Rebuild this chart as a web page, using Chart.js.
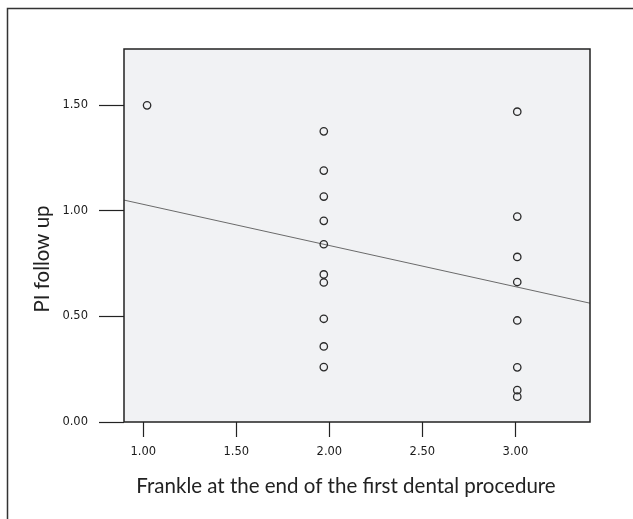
<!DOCTYPE html>
<html>
<head>
<meta charset="utf-8">
<script src="https://cdn.jsdelivr.net/npm/chart.js@4/dist/chart.umd.min.js"></script>
<style>
  html, body { margin: 0; padding: 0; background: #ffffff; }
  #wrap { width: 633px; height: 519px; position: relative; }
</style>
</head>
<body>
<div id="wrap"><canvas id="c" width="633" height="519"></canvas></div>
<script>
// ---- data ----
const frankleScores = [1.02,
  1.97, 1.97, 1.97, 1.97, 1.97, 1.97, 1.97, 1.97, 1.97, 1.97,
  3.01, 3.01, 3.01, 3.01, 3.01, 3.01, 3.01, 3.01];
const piFollowUp = [1.50,
  1.377, 1.191, 1.068, 0.953, 0.842, 0.699, 0.661, 0.489, 0.358, 0.260,
  1.470, 0.973, 0.782, 0.663, 0.481, 0.259, 0.151, 0.120];
const fitIntercept = 1.226;
const fitSlope = -0.195;
const xTickValues = [1.0, 1.5, 2.0, 2.5, 3.0];
const yTickValues = [0.0, 0.5, 1.0, 1.5];
const xRange = [0.896, 3.401];
const yRange = [0, 1.767];
const xTitle = 'Frankle at the end of the first dental procedure';
const yTitle = 'PI follow up';

const points = frankleScores.map((x, i) => ({ x: x, y: piFollowUp[i] }));
const fitLine = xRange.map(x => ({ x: x, y: fitIntercept + fitSlope * x }));

const framePlugin = {
  id: 'frame',
  beforeDraw(chart) {
    const ctx = chart.ctx, a = chart.chartArea;
    ctx.save();
    ctx.fillStyle = '#ffffff';
    ctx.fillRect(0, 0, chart.width, chart.height);
    // outer figure frame (left + top edges)
    ctx.strokeStyle = '#333333';
    ctx.lineWidth = 1.5;
    ctx.beginPath();
    ctx.moveTo(7.5, chart.height);
    ctx.lineTo(7.5, 8.5);
    ctx.lineTo(chart.width, 8.5);
    ctx.stroke();
    // plot background
    ctx.fillStyle = '#f1f2f4';
    ctx.fillRect(a.left, a.top, a.right - a.left, a.bottom - a.top);
    ctx.restore();
  },
  afterDraw(chart) {
    const ctx = chart.ctx, a = chart.chartArea;
    ctx.save();
    ctx.strokeStyle = '#222222';
    ctx.lineWidth = 1.5;
    ctx.strokeRect(a.left, a.top, a.right - a.left, a.bottom - a.top);
    ctx.fillStyle = '#222222';
    ctx.font = '20.5px Lato';
    ctx.textAlign = 'center';
    ctx.textBaseline = 'alphabetic';
    ctx.fillText(xTitle, 346, 493);
    ctx.translate(49, 259);
    ctx.rotate(-Math.PI / 2);
    ctx.fillText(yTitle, 0, 0);
    ctx.restore();
  }
};

new Chart(document.getElementById('c'), {
  type: 'scatter',
  data: {
    datasets: [
      {
        data: points,
        pointStyle: 'circle',
        pointRadius: 3.7,
        pointBorderWidth: 1.3,
        borderColor: '#2a2a2a',
        backgroundColor: 'rgba(0,0,0,0)',
        pointHoverRadius: 3.7
      },
      {
        type: 'line',
        data: fitLine,
        showLine: true,
        borderColor: '#6a6a6a',
        borderWidth: 1,
        pointRadius: 0,
        fill: false
      }
    ]
  },
  options: {
    responsive: false,
    animation: false,
    events: [],
    layout: { padding: { top: 49, right: 43, left: 0, bottom: 0 } },
    plugins: { legend: { display: false }, tooltip: { enabled: false } },
    scales: {
      x: {
        type: 'linear',
        min: xRange[0],
        max: xRange[1],
        afterBuildTicks: s => { s.ticks = xTickValues.map(v => ({ value: v })); },
        afterFit: s => { s.height = 97; },
        border: { display: false },
        grid: { drawOnChartArea: false, drawTicks: true, tickLength: 15, color: '#222222', tickWidth: 1.2 },
        ticks: {
          autoSkip: false, maxRotation: 0, padding: 8,
          color: '#1a1a1a',
          font: { family: 'DejaVu Sans', size: 11.5 },
          callback: v => Number(v).toFixed(2)
        }
      },
      y: {
        type: 'linear',
        min: yRange[0],
        max: yRange[1],
        afterBuildTicks: s => { s.ticks = yTickValues.map(v => ({ value: v })); },
        afterFit: s => { s.width = 124; },
        border: { display: false },
        grid: { drawOnChartArea: false, drawTicks: true, tickLength: 25, color: '#222222', tickWidth: 1.2 },
        ticks: {
          autoSkip: false, padding: 11,
          color: '#1a1a1a',
          font: { family: 'DejaVu Sans', size: 11.5 },
          callback: v => Number(v).toFixed(2)
        }
      }
    }
  },
  plugins: [framePlugin]
});
</script>
</body>
</html>
